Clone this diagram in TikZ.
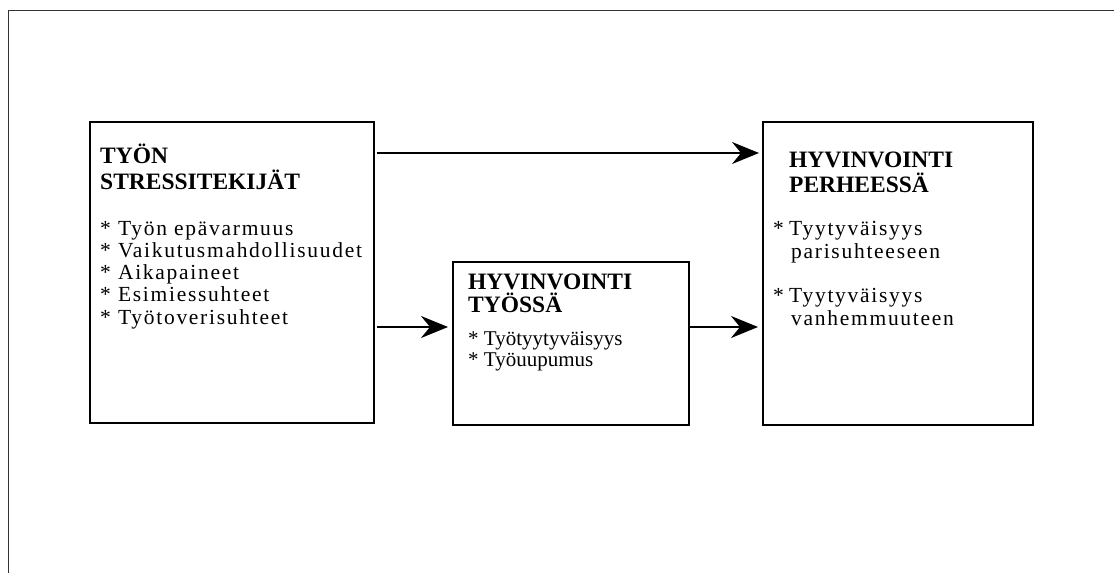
\documentclass[tikz,border=0pt]{standalone}
\usepackage{fontspec}
\setmainfont{Liberation Serif}
\newfontfamily\spacedfont[LetterSpace=8]{Liberation Serif}
\usetikzlibrary{arrows.meta}
\begin{document}
\begin{tikzpicture}[x=1pt,y=-1pt,
  box/.style={draw=black, line width=1.6pt, inner sep=0pt, anchor=north west},
  ttl/.style={font=\bfseries\fontsize{23.5}{25}\selectfont, anchor=base west, inner sep=0pt},
  itm/.style={font=\spacedfont\fontsize{21.5}{22}\selectfont, anchor=base west, inner sep=0pt},
  itmb/.style={font=\fontsize{21}{22}\selectfont, anchor=base west, inner sep=0pt},
  arr/.style={line width=1.5pt, -{Stealth[length=27pt,width=22pt,inset=9pt]}},
  frame/.style={draw=black!80, line width=1pt}
]
\useasboundingbox (0,0) rectangle (1114,573);
\draw[frame] (1114,10) -- (8,10) -- (8,573);

% boxes
\node[box, minimum width=284pt, minimum height=301pt] (b1) at (89,121) {};
\node[box, minimum width=236pt, minimum height=163pt] (b2) at (452,261) {};
\node[box, minimum width=270pt, minimum height=303pt] (b3) at (762,121) {};

% box 1 text
\node[ttl] (t1a) at (100,163) {TYÖN};
\node[ttl] (t1b) at (100,189) {STRESSITEKIJÄT};
\node[itm] (l1a) at (100,235) {* Työn epävarmuus};
\node[itm] (l1b) at (100,257.3) {* Vaikutusmahdollisuudet};
\node[itm] (l1c) at (100,279.6) {* Aikapaineet};
\node[itm] (l1d) at (100,301.9) {* Esimiessuhteet};
\node[itm] (l1e) at (100,324.2) {* Työtoverisuhteet};

% box 2 text
\node[ttl] (t2a) at (468,289) {HYVINVOINTI};
\node[ttl] (t2b) at (468,312) {TYÖSSÄ};
\node[itmb] (l2a) at (468,345) {* Työtyytyväisyys};
\node[itmb] (l2b) at (468,366) {* Työuupumus};

% box 3 text
\node[ttl] (t3a) at (789,167) {HYVINVOINTI};
\node[ttl] (t3b) at (789,192) {PERHEESSÄ};
\node[itm] (s3a) at (773,235) {*};
\node[itm] (l3a) at (789,235) {Tyytyväisyys};
\node[itm] (l3b) at (791,258) {parisuhteeseen};
\node[itm] (s3b) at (773,302) {*};
\node[itm] (l3c) at (789,302) {Tyytyväisyys};
\node[itm] (l3d) at (791,325) {vanhemmuuteen};

% arrows
\draw[arr] ([xshift=2pt,yshift=-32pt]b1.north east) -- ([xshift=-3pt,yshift=-32pt]b3.north west);
\draw[arr] ([xshift=2pt,yshift=-206pt]b1.north east) -- ([xshift=-4pt,yshift=-66pt]b2.north west);
\draw[arr] ([yshift=-66pt]b2.north east) -- ([xshift=-4pt,yshift=-206pt]b3.north west);
\end{tikzpicture}
\end{document}
